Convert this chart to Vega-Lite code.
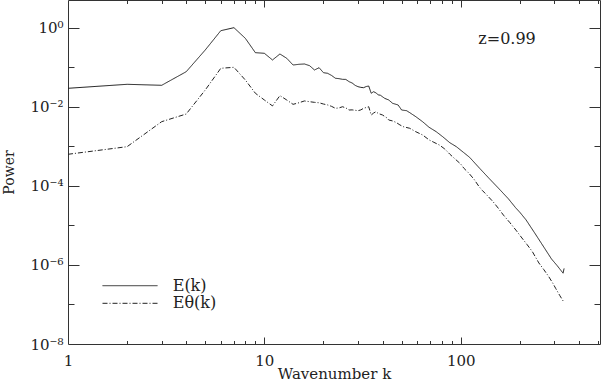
{
  "$schema": "https://vega.github.io/schema/vega-lite/v6.json",
  "width": 532,
  "height": 344,
  "autosize": {"type": "none"},
  "padding": {"left": 68, "top": 0, "right": 1, "bottom": 40},
  "background": "white",
  "config": {
    "view": {"stroke": "#333", "strokeWidth": 1},
    "font": "DejaVu Serif",
    "axis": {
      "grid": false,
      "domain": false,
      "tickColor": "#333",
      "tickWidth": 1,
      "labelColor": "#222",
      "titleColor": "#222",
      "labelFont": "DejaVu Serif",
      "titleFont": "DejaVu Serif",
      "labelFontSize": 15,
      "titleFontSize": 15,
      "titleFontWeight": "normal",
      "labelOverlap": false,
      "labelFlush": false
    }
  },
  "data": {
    "values": [
      {"k": 1, "P": 0.02924, "s": "E(k)"},
      {"k": 2, "P": 0.0369, "s": "E(k)"},
      {"k": 3, "P": 0.03483, "s": "E(k)"},
      {"k": 4, "P": 0.07691, "s": "E(k)"},
      {"k": 5, "P": 0.2723, "s": "E(k)"},
      {"k": 6, "P": 0.8375, "s": "E(k)"},
      {"k": 7, "P": 0.9977, "s": "E(k)"},
      {"k": 8, "P": 0.537, "s": "E(k)"},
      {"k": 9, "P": 0.2328, "s": "E(k)"},
      {"k": 10, "P": 0.2244, "s": "E(k)"},
      {"k": 11, "P": 0.1521, "s": "E(k)"},
      {"k": 12, "P": 0.2158, "s": "E(k)"},
      {"k": 13, "P": 0.1679, "s": "E(k)"},
      {"k": 14, "P": 0.1135, "s": "E(k)"},
      {"k": 15, "P": 0.1183, "s": "E(k)"},
      {"k": 16, "P": 0.1205, "s": "E(k)"},
      {"k": 17, "P": 0.1091, "s": "E(k)"},
      {"k": 18, "P": 0.0849, "s": "E(k)"},
      {"k": 19, "P": 0.097, "s": "E(k)"},
      {"k": 20, "P": 0.0726, "s": "E(k)"},
      {"k": 21, "P": 0.07, "s": "E(k)"},
      {"k": 22, "P": 0.0617, "s": "E(k)"},
      {"k": 23, "P": 0.0525, "s": "E(k)"},
      {"k": 24, "P": 0.0513, "s": "E(k)"},
      {"k": 25, "P": 0.0493, "s": "E(k)"},
      {"k": 26, "P": 0.049, "s": "E(k)"},
      {"k": 27, "P": 0.043, "s": "E(k)"},
      {"k": 28, "P": 0.0398, "s": "E(k)"},
      {"k": 29, "P": 0.0347, "s": "E(k)"},
      {"k": 30, "P": 0.0321, "s": "E(k)"},
      {"k": 31, "P": 0.0309, "s": "E(k)"},
      {"k": 32, "P": 0.0303, "s": "E(k)"},
      {"k": 33, "P": 0.0324, "s": "E(k)"},
      {"k": 34, "P": 0.0334, "s": "E(k)"},
      {"k": 35, "P": 0.0219, "s": "E(k)"},
      {"k": 36, "P": 0.024, "s": "E(k)"},
      {"k": 37, "P": 0.0224, "s": "E(k)"},
      {"k": 38, "P": 0.02, "s": "E(k)"},
      {"k": 39, "P": 0.0195, "s": "E(k)"},
      {"k": 41, "P": 0.0163, "s": "E(k)"},
      {"k": 43, "P": 0.0148, "s": "E(k)"},
      {"k": 45, "P": 0.0122, "s": "E(k)"},
      {"k": 48, "P": 0.01107, "s": "E(k)"},
      {"k": 50, "P": 0.00826, "s": "E(k)"},
      {"k": 53, "P": 0.00794, "s": "E(k)"},
      {"k": 55, "P": 0.00708, "s": "E(k)"},
      {"k": 59, "P": 0.00562, "s": "E(k)"},
      {"k": 64, "P": 0.00417, "s": "E(k)"},
      {"k": 69, "P": 0.00302, "s": "E(k)"},
      {"k": 75, "P": 0.00234, "s": "E(k)"},
      {"k": 81, "P": 0.00174, "s": "E(k)"},
      {"k": 88, "P": 0.00123, "s": "E(k)"},
      {"k": 95, "P": 0.000977, "s": "E(k)"},
      {"k": 103, "P": 0.000708, "s": "E(k)"},
      {"k": 111, "P": 0.000525, "s": "E(k)"},
      {"k": 125, "P": 0.000275, "s": "E(k)"},
      {"k": 140, "P": 0.000151, "s": "E(k)"},
      {"k": 157, "P": 0.0000832, "s": "E(k)"},
      {"k": 175, "P": 0.0000468, "s": "E(k)"},
      {"k": 190, "P": 0.0000282, "s": "E(k)"},
      {"k": 200, "P": 0.0000214, "s": "E(k)"},
      {"k": 215, "P": 0.0000138, "s": "E(k)"},
      {"k": 240, "P": 0.00000603, "s": "E(k)"},
      {"k": 265, "P": 0.00000282, "s": "E(k)"},
      {"k": 290, "P": 0.00000141, "s": "E(k)"},
      {"k": 310, "P": 0.000000955, "s": "E(k)"},
      {"k": 325, "P": 0.000000708, "s": "E(k)"},
      {"k": 332, "P": 0.000000617, "s": "E(k)"},
      {"k": 336, "P": 0.000000813, "s": "E(k)"},
      {"k": 1, "P": 0.000627, "s": "Eθ(k)"},
      {"k": 2, "P": 0.000977, "s": "Eθ(k)"},
      {"k": 3, "P": 0.00419, "s": "Eθ(k)"},
      {"k": 4, "P": 0.00655, "s": "Eθ(k)"},
      {"k": 5, "P": 0.0265, "s": "Eθ(k)"},
      {"k": 6, "P": 0.0938, "s": "Eθ(k)"},
      {"k": 7, "P": 0.0993, "s": "Eθ(k)"},
      {"k": 8, "P": 0.0474, "s": "Eθ(k)"},
      {"k": 9, "P": 0.0219, "s": "Eθ(k)"},
      {"k": 10, "P": 0.0148, "s": "Eθ(k)"},
      {"k": 11, "P": 0.0105, "s": "Eθ(k)"},
      {"k": 12, "P": 0.0191, "s": "Eθ(k)"},
      {"k": 13, "P": 0.0148, "s": "Eθ(k)"},
      {"k": 14, "P": 0.0115, "s": "Eθ(k)"},
      {"k": 15, "P": 0.0126, "s": "Eθ(k)"},
      {"k": 16, "P": 0.014, "s": "Eθ(k)"},
      {"k": 17, "P": 0.0134, "s": "Eθ(k)"},
      {"k": 18, "P": 0.0129, "s": "Eθ(k)"},
      {"k": 19, "P": 0.0126, "s": "Eθ(k)"},
      {"k": 20, "P": 0.0117, "s": "Eθ(k)"},
      {"k": 21, "P": 0.0111, "s": "Eθ(k)"},
      {"k": 22, "P": 0.0102, "s": "Eθ(k)"},
      {"k": 23, "P": 0.00912, "s": "Eθ(k)"},
      {"k": 24, "P": 0.00933, "s": "Eθ(k)"},
      {"k": 25, "P": 0.01, "s": "Eθ(k)"},
      {"k": 26, "P": 0.00933, "s": "Eθ(k)"},
      {"k": 27, "P": 0.00826, "s": "Eθ(k)"},
      {"k": 28, "P": 0.00832, "s": "Eθ(k)"},
      {"k": 29, "P": 0.00813, "s": "Eθ(k)"},
      {"k": 30, "P": 0.00794, "s": "Eθ(k)"},
      {"k": 31, "P": 0.00832, "s": "Eθ(k)"},
      {"k": 32, "P": 0.00912, "s": "Eθ(k)"},
      {"k": 33, "P": 0.00955, "s": "Eθ(k)"},
      {"k": 34, "P": 0.01, "s": "Eθ(k)"},
      {"k": 35, "P": 0.00617, "s": "Eθ(k)"},
      {"k": 36, "P": 0.00692, "s": "Eθ(k)"},
      {"k": 37, "P": 0.0075, "s": "Eθ(k)"},
      {"k": 38, "P": 0.00676, "s": "Eθ(k)"},
      {"k": 40, "P": 0.00617, "s": "Eθ(k)"},
      {"k": 42, "P": 0.00525, "s": "Eθ(k)"},
      {"k": 43, "P": 0.00462, "s": "Eθ(k)"},
      {"k": 45, "P": 0.00437, "s": "Eθ(k)"},
      {"k": 47, "P": 0.00398, "s": "Eθ(k)"},
      {"k": 49, "P": 0.00347, "s": "Eθ(k)"},
      {"k": 51, "P": 0.00313, "s": "Eθ(k)"},
      {"k": 55, "P": 0.00285, "s": "Eθ(k)"},
      {"k": 59, "P": 0.00234, "s": "Eθ(k)"},
      {"k": 64, "P": 0.00193, "s": "Eθ(k)"},
      {"k": 69, "P": 0.00145, "s": "Eθ(k)"},
      {"k": 73, "P": 0.00126, "s": "Eθ(k)"},
      {"k": 78, "P": 0.00107, "s": "Eθ(k)"},
      {"k": 83, "P": 0.000851, "s": "Eθ(k)"},
      {"k": 88, "P": 0.000631, "s": "Eθ(k)"},
      {"k": 94, "P": 0.000468, "s": "Eθ(k)"},
      {"k": 100, "P": 0.000355, "s": "Eθ(k)"},
      {"k": 104, "P": 0.000275, "s": "Eθ(k)"},
      {"k": 110, "P": 0.000209, "s": "Eθ(k)"},
      {"k": 117, "P": 0.000145, "s": "Eθ(k)"},
      {"k": 124, "P": 0.0000955, "s": "Eθ(k)"},
      {"k": 127, "P": 0.0000832, "s": "Eθ(k)"},
      {"k": 129, "P": 0.0000759, "s": "Eθ(k)"},
      {"k": 135, "P": 0.0000603, "s": "Eθ(k)"},
      {"k": 146, "P": 0.0000398, "s": "Eθ(k)"},
      {"k": 155, "P": 0.0000275, "s": "Eθ(k)"},
      {"k": 165, "P": 0.0000182, "s": "Eθ(k)"},
      {"k": 178, "P": 0.0000117, "s": "Eθ(k)"},
      {"k": 191, "P": 0.00000759, "s": "Eθ(k)"},
      {"k": 205, "P": 0.00000479, "s": "Eθ(k)"},
      {"k": 218, "P": 0.00000324, "s": "Eθ(k)"},
      {"k": 232, "P": 0.00000214, "s": "Eθ(k)"},
      {"k": 250, "P": 0.00000112, "s": "Eθ(k)"},
      {"k": 265, "P": 0.000000759, "s": "Eθ(k)"},
      {"k": 281, "P": 0.000000501, "s": "Eθ(k)"},
      {"k": 295, "P": 0.000000339, "s": "Eθ(k)"},
      {"k": 305, "P": 0.000000251, "s": "Eθ(k)"},
      {"k": 320, "P": 0.000000166, "s": "Eθ(k)"},
      {"k": 336, "P": 0.000000112, "s": "Eθ(k)"}
    ]
  },
  "layer": [
    {
      "mark": {"type": "line", "color": "#222", "strokeWidth": 1},
      "encoding": {
        "x": {
          "field": "k", "type": "quantitative",
          "scale": {"type": "log", "domain": [1, 512], "nice": false},
          "axis": {
            "orient": "bottom",
            "values": [1, 10, 100],
            "labelExpr": "datum.value == 1 ? '1' : datum.value == 10 ? '10' : '100'",
            "ticks": false,
            "labelPadding": 9,
            "title": "Wavenumber k",
            "titleY": 22
          }
        },
        "y": {
          "field": "P", "type": "quantitative",
          "scale": {"type": "log", "domain": [1e-8, 5], "nice": false},
          "axis": {
            "orient": "left",
            "values": [1, 0.01, 0.0001, 0.000001, 0.00000001],
            "labelExpr": "['10⁻⁸','','10⁻⁶','','10⁻⁴','','10⁻²','','10⁰'][round(log(datum.value)/LN10)+8]",
            "ticks": false,
            "labelPadding": 5,
            "title": "Power",
            "titleFontSize": 14,
            "titlePadding": 13
          }
        },
        "strokeDash": {
          "field": "s", "type": "nominal",
          "scale": {"domain": ["E(k)", "Eθ(k)"], "range": [[1, 0], [5, 2, 1, 2]]},
          "legend": {
            "orient": "none",
            "legendX": 54,
            "legendY": 277.7,
            "title": null,
            "padding": 0,
            "symbolType": "M-5,0H5",
            "symbolSize": 121,
            "symbolStrokeWidth": 1,
            "symbolStrokeColor": "#222",
            "symbolFillColor": "transparent",
            "labelFont": "DejaVu Serif",
            "labelFontSize": 16,
            "labelColor": "#222",
            "labelOffset": 34.7,
            "rowPadding": 1.6
          }
        }
      }
    },
    {
      "mark": {"type": "point", "opacity": 0},
      "encoding": {
        "x": {
          "field": "k", "type": "quantitative",
          "scale": {"type": "log", "domain": [1, 512], "nice": false},
          "axis": {"orient": "bottom", "values": [10, 100], "labels": false, "title": null, "tickSize": 7, "offset": -7}
        },
        "y": {
          "field": "P", "type": "quantitative",
          "scale": {"type": "log", "domain": [1e-8, 5], "nice": false},
          "axis": {"orient": "left", "values": [1, 0.01, 0.0001, 0.000001], "labels": false, "title": null, "tickSize": 11, "offset": -11}
        }
      }
    },
    {
      "mark": {"type": "point", "opacity": 0},
      "encoding": {
        "x": {
          "field": "k", "type": "quantitative",
          "scale": {"type": "log", "domain": [1, 512], "nice": false},
          "axis": {"orient": "bottom", "values": [2, 3, 4, 5, 6, 7, 8, 9, 20, 30, 40, 50, 60, 70, 80, 90, 200, 300, 400, 500], "labels": false, "title": null, "tickSize": 3.5, "offset": -3.5}
        },
        "y": {
          "field": "P", "type": "quantitative",
          "scale": {"type": "log", "domain": [1e-8, 5], "nice": false},
          "axis": {"orient": "left", "values": [0.1, 0.001, 0.00001, 0.0000001], "labels": false, "title": null, "tickSize": 6, "offset": -6}
        }
      }
    },
    {
      "mark": {"type": "point", "opacity": 0},
      "encoding": {
        "x": {
          "field": "k", "type": "quantitative",
          "scale": {"type": "log", "domain": [1, 512], "nice": false},
          "axis": {"orient": "top", "values": [10, 100], "labels": false, "title": null, "tickSize": 7, "offset": -7}
        },
        "y": {
          "field": "P", "type": "quantitative",
          "scale": {"type": "log", "domain": [1e-8, 5], "nice": false},
          "axis": {"orient": "right", "values": [1, 0.01, 0.0001, 0.000001], "labels": false, "title": null, "tickSize": 11, "offset": -11}
        }
      }
    },
    {
      "mark": {"type": "point", "opacity": 0},
      "encoding": {
        "x": {
          "field": "k", "type": "quantitative",
          "scale": {"type": "log", "domain": [1, 512], "nice": false},
          "axis": {"orient": "top", "values": [2, 3, 4, 5, 6, 7, 8, 9, 20, 30, 40, 50, 60, 70, 80, 90, 200, 300, 400, 500], "labels": false, "title": null, "tickSize": 3.5, "offset": -3.5}
        },
        "y": {
          "field": "P", "type": "quantitative",
          "scale": {"type": "log", "domain": [1e-8, 5], "nice": false},
          "axis": {"orient": "right", "values": [0.1, 0.001, 0.00001, 0.0000001], "labels": false, "title": null, "tickSize": 6, "offset": -6}
        }
      }
    },
    {
      "data": {"values": [{"label": "z=0.99"}]},
      "mark": {"type": "text", "align": "left", "baseline": "middle", "font": "DejaVu Serif", "fontSize": 16, "color": "#222"},
      "encoding": {
        "x": {"datum": 122.9, "type": "quantitative", "scale": {"type": "log", "domain": [1, 512], "nice": false}, "axis": null},
        "y": {"datum": 0.516, "type": "quantitative", "scale": {"type": "log", "domain": [1e-8, 5], "nice": false}, "axis": null},
        "text": {"field": "label"}
      }
    }
  ],
  "resolve": {
    "scale": {"x": "independent", "y": "independent"},
    "axis": {"x": "independent", "y": "independent"}
  }
}
